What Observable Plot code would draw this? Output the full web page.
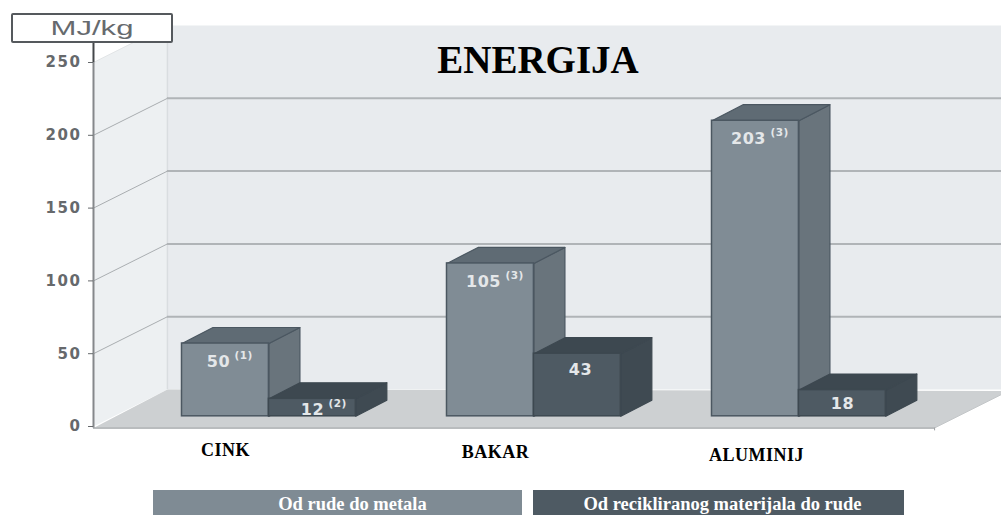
<!DOCTYPE html>
<html>
<head>
<meta charset="utf-8">
<script src="https://cdn.jsdelivr.net/npm/d3@7"></script>
<script src="https://cdn.jsdelivr.net/npm/@observablehq/plot@0.6"></script>
<style>
  html, body { margin: 0; padding: 0; background: #fff; }
  #page { position: relative; width: 1001px; height: 515px; overflow: hidden; }
  #page svg { display: block; }
  #page svg [aria-label="y-axis tick label"] { letter-spacing: 1.6px; }
  #page svg [aria-label="text"] { letter-spacing: 0.5px; }
  #title { position: absolute; left: 338px; width: 400px; top: 37px; text-align: center;
    font: 700 39px "Liberation Serif", serif; color: #000; line-height: 46px; }
  #unit { position: absolute; left: 11px; top: 13px; width: 158px; height: 26px; background: #fff;
    border: 2px solid #55595d; border-radius: 2px; text-align: center; color: #666a6e;
    font: 400 21px/26px "Liberation Sans", sans-serif; }
  #unit span { display: inline-block; transform: scaleX(1.48); }
  #legend { position: absolute; left: 0; top: 490px; height: 25px; width: 1001px; }
  #legend div { position: absolute; top: 0; height: 25px; text-align: center; color: #fff; box-sizing: border-box;
    font: 700 18.5px/29px "Liberation Serif", serif; white-space: nowrap; }
</style>
</head>
<body>
<div id="page"></div>
<script>
const categories = ["CINK", "BAKAR", "ALUMINIJ"];
const rudaValues = [50, 105, 203];
const recikliranoValues = [12, 43, 18];
const rudaNotes = ["(1)", "(3)", "(3)"];
const recikliranoNotes = ["(2)", "", ""];
const yTicks = [0, 50, 100, 150, 200, 250];
const seriesNames = ["Od rude do metala", "Od recikliranog materijala do rude"];
const titleText = "ENERGIJA";
const unitText = "MJ/kg";

// Pseudo-3D geometry, in scale units
const barW = 0.328, depthX = 0.117, depthY = 11, base = 7;
const wallL = -0.334, wallDX = 0.279, wallDY = 25.4, wallR = 3.1, wallTop = 275.4, floorR = 2.84;
const xPerPx = 1 / 265, yPerPx = 1 / 1.456;

const palette = [
  {front: "#808c95", side: "#69747c", top: "#5f6b74", stroke: "#4b5761"},
  {front: "#4e5a63", side: "#3f4a52", top: "#3d4850", stroke: "#3d4850"}
];

function face(pts, fill, stroke) {
  const closed = pts.concat([pts[0]]);
  return Plot.line(closed, {x: d => d[0], y: d => d[1], fill, stroke: stroke || "none", strokeWidth: 1.2, curve: "linear"});
}

const marks = [];
// walls and floor
marks.push(face([[wallL + wallDX, wallDY], [wallR, wallDY], [wallR, wallTop], [wallL + wallDX, wallTop]], "#e8ebee"));
marks.push(face([[wallL, 0], [wallL + wallDX, wallDY], [wallL + wallDX, wallTop], [wallL, 250]], "#edf0f2"));
marks.push(face([[wallL, -1], [floorR, -1], [floorR + wallDX, wallDY - 1], [wallL + wallDX, wallDY]], "#cdd0d2"));
marks.push(Plot.ruleX([wallL + wallDX], {y1: wallDY, y2: wallTop, stroke: "#d9dde0", strokeWidth: 1.5}));
// grid
for (const t of yTicks.slice(1)) {
  const c = t === 250 ? "#e2e5e7" : "#a9adb0";
  marks.push(Plot.line([[wallL, t], [wallL + wallDX, t + wallDY]], {x: d => d[0], y: d => d[1], stroke: c, strokeWidth: 1}));
  if (t < 250) {
    marks.push(Plot.ruleY([t + wallDY], {x1: wallL + wallDX, x2: wallR, stroke: "#b0b4b7", strokeWidth: 2}));
  }
}
marks.push(Plot.ruleY([-1], {x1: wallL, x2: floorR, stroke: "#b9bcbe", strokeWidth: 2}));
marks.push(Plot.line([[floorR, -1], [floorR + wallDX, wallDY - 1]], {x: d => d[0], y: d => d[1], stroke: "#c4c7c9", strokeWidth: 1}));
marks.push(Plot.ruleX([floorR], {y1: -3, y2: -1, stroke: "#9a9da0", strokeWidth: 1}));

// bars
categories.forEach((cat, i) => {
  [rudaValues[i], recikliranoValues[i]].forEach((v, s) => {
    const x0 = i + s * barW, x1 = x0 + barW, top = v + base, p = palette[s];
    marks.push(face([[x1, base], [x1 + depthX, base + depthY], [x1 + depthX, top + depthY], [x1, top]], p.side, p.stroke));
    marks.push(face([[x0, top], [x1, top], [x1 + depthX, top + depthY], [x0 + depthX, top + depthY]], p.top, p.stroke));
    marks.push(Plot.rect([v], {x1: x0, x2: x1, y1: base, y2: top, fill: p.front, stroke: p.stroke, strokeWidth: 1.5}));
  });
});

// data labels
const labelFont = {fontFamily: "DejaVu Sans", fontWeight: 700, fill: "#e4e7e9"};
const rows = [
  ...categories.map((c, i) => ({v: rudaValues[i], note: rudaNotes[i], x: i + barW / 2 - 7 * xPerPx})),
  ...categories.map((c, i) => ({v: recikliranoValues[i], note: recikliranoNotes[i], x: i + barW * 1.5 + (i === 1 ? 3 : 0) * xPerPx}))
];
const drop = v => (v < 15 ? 11 : v < 30 ? 14 : v < 50 ? 16 : 18) * yPerPx;
marks.push(Plot.text(rows, {x: "x", y: d => d.v + base - drop(d.v), text: d => String(d.v), fontSize: 16, ...labelFont}));
marks.push(Plot.text(rows.filter(d => d.note), {
  x: d => d.x + (String(d.v).length * 6 + 4) * xPerPx,
  y: d => d.v + base - drop(d.v) + 6 * yPerPx,
  text: "note", fontSize: 10.5, textAnchor: "start", ...labelFont
}));

// categories
const catNudgeX = [0, 5, 1], catNudgeY = [0, 2, 5];
marks.push(Plot.text(categories, {
  x: (d, i) => i + barW / 2 + catNudgeX[i] * xPerPx,
  y: (d, i) => -16 - catNudgeY[i] * yPerPx,
  text: d => d, fontFamily: "Liberation Serif", fontWeight: 700, fontSize: 18, fill: "#000"
}));

// axis
marks.push(Plot.ruleX([wallL], {y1: -1, y2: 250, stroke: "#85888b", strokeWidth: 2}));
marks.push(Plot.ruleX([wallL], {y1: 250, y2: 264, stroke: "#44474a", strokeWidth: 2}));
marks.push(Plot.axisY({ticks: yTicks, tickFormat: d => String(d), tickSize: 5, tickPadding: 7, fontSize: 15, fontFamily: "DejaVu Sans", fontWeight: 700, fill: "#66696c", stroke: "#66696c", label: null}));

const chart = Plot.plot({
  width: 1001, height: 488, marginLeft: 93, marginTop: 0, marginRight: 0, marginBottom: 0,
  x: {axis: null, domain: [0, 1], range: [181.5, 446.5]},
  y: {domain: [0, 250], range: [426, 62]},
  style: {background: "transparent", overflow: "visible"},
  marks
});

const page = document.getElementById("page");
page.appendChild(chart);
page.insertAdjacentHTML("beforeend",
  `<div id="title">${titleText}</div>
   <div id="unit"><span>${unitText}</span></div>
   <div id="legend">
     <div style="left:153px;width:369px;background:#7f8b94;padding-left:30px">${seriesNames[0]}</div>
     <div style="left:533px;width:371px;background:#4e5a63;padding-left:8px">${seriesNames[1]}</div>
   </div>`);
</script>
</body>
</html>
